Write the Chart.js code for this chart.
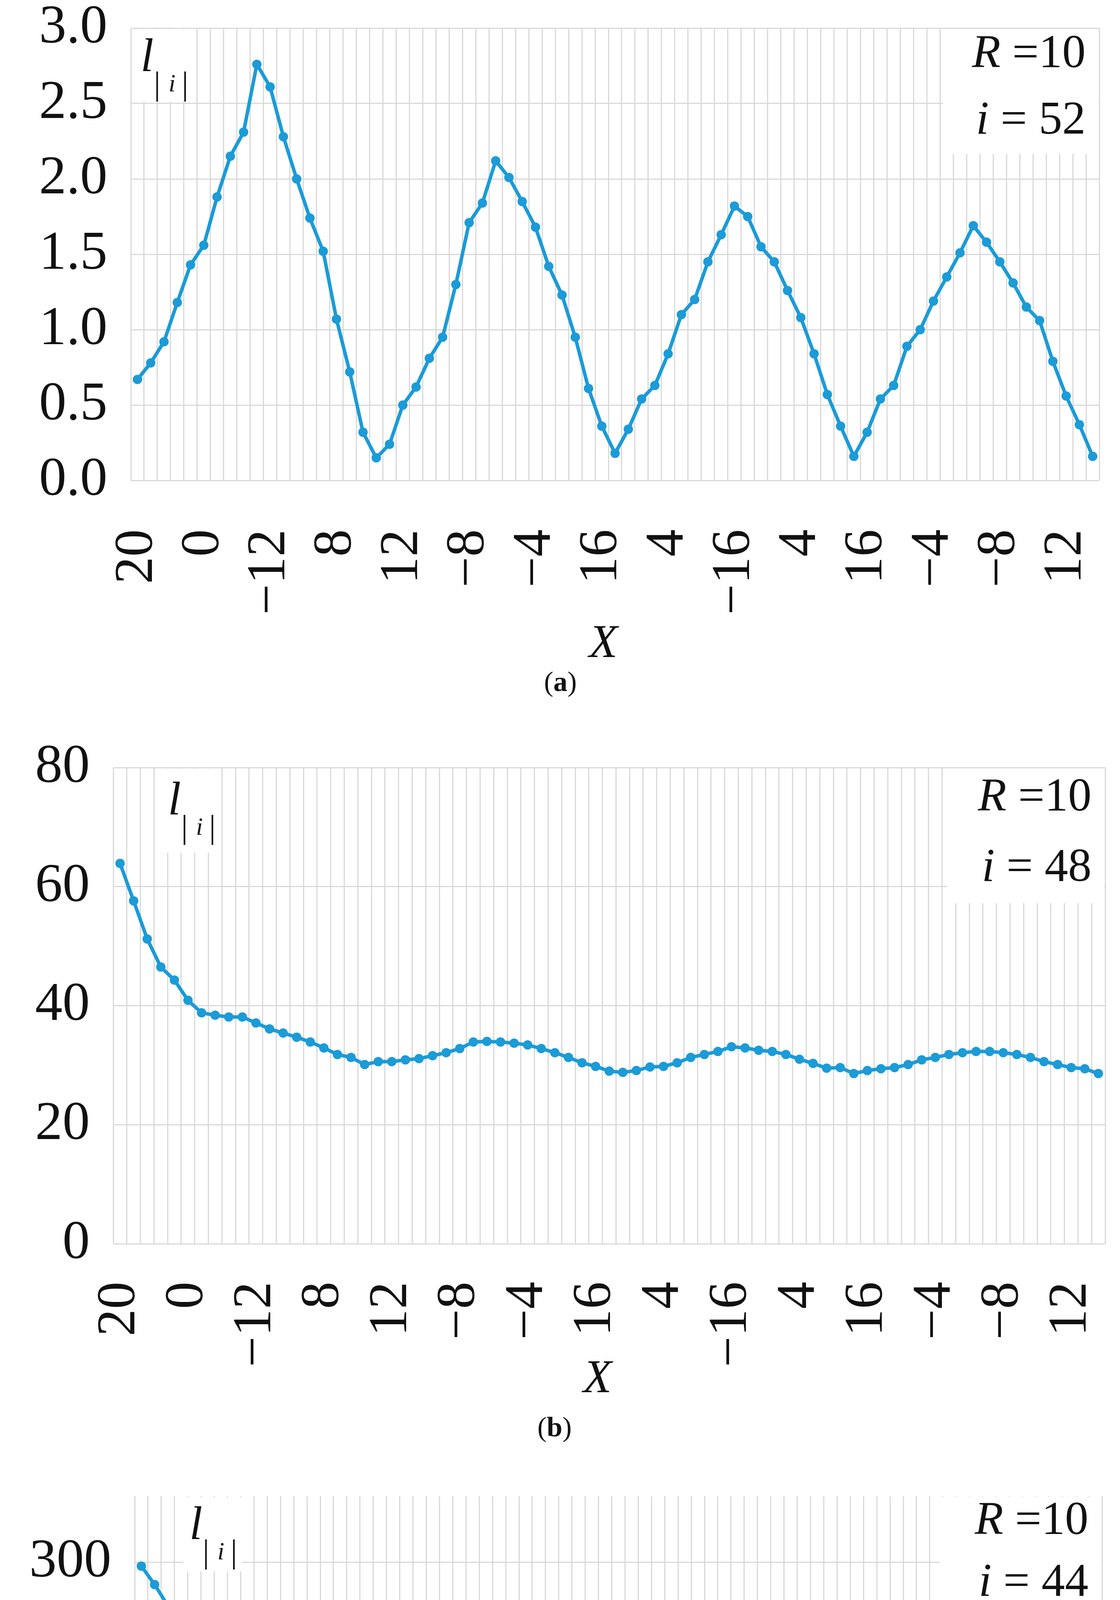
<!DOCTYPE html>
<html><head><meta charset="utf-8">
<script src="https://cdn.jsdelivr.net/npm/chart.js@4.4.1/dist/chart.umd.min.js"></script>
<style>
html,body{margin:0;padding:0;background:#fff;overflow:hidden;}
canvas{position:absolute;left:0;}
</style></head>
<body>
<canvas id="ca" width="2868" height="1850" style="top:0px;width:2868px;height:1850px"></canvas>
<canvas id="cb" width="2868" height="1850" style="top:1850px;width:2868px;height:1850px"></canvas>
<canvas id="cc" width="2868" height="1926" style="top:3700px;width:2868px;height:1926px"></canvas>
<script>
// tick labels shown every 5th category
const tickLabels = ['20','0','\u221212','8','12','\u22128','\u22124','16','4','\u221216','4','16','\u22124','\u22128','12'];
const categories = Array.from({length:73},(_,i)=>i);

const valuesA = [0.67,0.78,0.92,1.18,1.43,1.56,1.88,2.15,2.31,2.76,2.61,2.28,2.00,1.74,1.52,1.07,0.72,0.32,0.15,0.24,
 0.50,0.62,0.81,0.95,1.30,1.71,1.84,2.12,2.01,1.85,1.68,1.42,1.23,0.95,0.61,0.36,0.18,0.34,0.54,0.63,
 0.84,1.10,1.20,1.45,1.63,1.82,1.75,1.55,1.45,1.26,1.08,0.84,0.57,0.36,0.16,0.32,0.54,0.63,0.89,1.00,
 1.19,1.35,1.51,1.69,1.58,1.45,1.31,1.15,1.06,0.79,0.56,0.37,0.16];
const valuesB = [63.9,57.6,51.2,46.5,44.3,40.9,38.8,38.4,38.1,38.1,37.1,36.1,35.4,34.7,33.9,32.9,31.8,31.3,30.1,30.6,
 30.6,30.9,31.1,31.6,32.1,32.8,33.9,34.0,33.9,33.7,33.4,32.8,32.1,31.3,30.4,29.8,29.0,28.8,29.1,29.7,
 29.8,30.4,31.3,31.8,32.3,33.1,32.9,32.5,32.3,31.8,31.0,30.3,29.5,29.6,28.6,29.1,29.4,29.6,30.1,30.9,
 31.3,31.8,32.1,32.3,32.3,32.1,31.8,31.3,30.6,30.1,29.6,29.4,28.6];
const valuesC = [297,283,267,253,235,221,213,201,196,189,189,190,190,192,193,196,200,203,208,205,
 203,201,198,196,193,191,188,188,187,187,188,189,191,193,198,201,206,203,200,198,
 195,193,190,189,188,187,186,187,187,188,190,192,195,197,203,199,196,195,192,190,
 188,187,187,187,187,188,188,189,191,193,196,199,203];

const panels = [
 {id:'ca', data:valuesA, max:3, step:0.5, dec:1, i:'52', cap:'a',
  L:335, R:2815, padTop:72, xH:620, tickPad:125, xTitleY:420, capY:520,
  lbox:[5,3,160,185], lx:25, ly:110, rbox:[400,320], ry1:100, ry2:270},
 {id:'cb', data:valuesB, max:80, step:20, dec:0, i:'48', cap:'b',
  L:290, R:2830, padTop:115, xH:516, tickPad:97, xTitleY:348, capY:474,
  lbox:[130,3,135,215], lx:140, ly:120, rbox:[405,345], ry1:110, ry2:290},
 {id:'cc', data:valuesC, max:350, step:50, dec:0, i:'44', cap:'c',
  L:345, R:2822, padTop:130, xH:613, tickPad:115, xTitleY:438, capY:563,
  lbox:[125,3,150,190], lx:140, ly:110, rbox:[415,305], ry1:97, ry2:255}
];

const BLUE = '#1b9bd7';
const SERIF = '"Liberation Serif", "DejaVu Serif", serif';

function annot(p){
 return {
  id:'annot'+p.id,
  beforeDatasetsDraw(chart){
   const c = chart.ctx, a = chart.chartArea;
   c.save();
   c.fillStyle = '#fff';
   c.fillRect(a.left+p.lbox[0], a.top+p.lbox[1], p.lbox[2], p.lbox[3]);
   c.fillRect(a.right-p.rbox[0], a.top+2, p.rbox[0]-2, p.rbox[1]);
   c.fillStyle = '#111';
   c.textBaseline = 'alphabetic';
   c.textAlign = 'left';
   c.font = 'italic 120px '+SERIF;
   c.fillText('l', a.left+p.lx, a.top+p.ly);
   c.font = '84px '+SERIF;
   let x = a.left+p.lx+34, y = a.top+p.ly+60;
   c.fillText('|', x, y); x += c.measureText('| ').width;
   c.font = 'italic 64px '+SERIF;
   c.fillText('i', x, y-8); x += c.measureText('i ').width;
   c.font = '84px '+SERIF;
   c.fillText('|', x, y);
   function rightLine(parts, yy){
    let xx = a.right-35;
    c.textAlign = 'right';
    for (let k=parts.length-1;k>=0;k--){
     c.font = (parts[k][1]?'italic ':'')+'120px '+SERIF;
     c.fillText(parts[k][0], xx, yy);
     xx -= c.measureText(parts[k][0]).width;
    }
   }
   rightLine([['R',true],[' =',false],['10',false]], a.top+p.ry1);
   rightLine([['i',true],[' = ',false],[p.i,false]], a.top+p.ry2);
   c.restore();
  },
  afterDraw(chart){
   const c = chart.ctx, a = chart.chartArea;
   c.save();
   c.fillStyle = '#111';
   c.textAlign = 'center';
   c.textBaseline = 'middle';
   c.font = 'italic 120px '+SERIF;
   c.fillText('X', (a.left+a.right)/2-30, a.bottom+p.xTitleY);
   c.textAlign = 'left';
   c.font = '72px '+SERIF;
   const w1 = c.measureText('(').width;
   c.font = 'bold 72px '+SERIF;
   const w2 = c.measureText(p.cap).width;
   c.font = '72px '+SERIF;
   const w3 = c.measureText(')').width;
   let x = (a.left+a.right)/2 - 140 - (w1+w2+w3)/2;
   const y = a.bottom+p.capY;
   c.fillText('(', x, y); x += w1;
   c.font = 'bold 72px '+SERIF; c.fillText(p.cap, x, y); x += w2;
   c.font = '72px '+SERIF; c.fillText(')', x, y);
   c.restore();
  }
 };
}

panels.forEach(p=>{
 new Chart(document.getElementById(p.id), {
  type:'line',
  data:{labels:categories, datasets:[{data:p.data, borderColor:BLUE, backgroundColor:BLUE,
    borderWidth:9, pointRadius:12, pointBackgroundColor:BLUE, pointBorderWidth:0, tension:0, fill:false}]},
  options:{
   responsive:false, devicePixelRatio:1, animation:false,
   layout:{padding:{top:p.padTop, right:2868-p.R, left:0, bottom:0}},
   plugins:{legend:{display:false}, tooltip:{enabled:false}},
   scales:{
    x:{type:'category', offset:true,
     grid:{offset:true, color:'#d9d9d9', lineWidth:3, drawTicks:false},
     border:{display:false},
     ticks:{autoSkip:false, minRotation:90, maxRotation:90, padding:p.tickPad, color:'#111',
       font:{family:SERIF, size:140},
       callback:(v,i)=> i%5===0 ? tickLabels[i/5] : ''},
     afterFit:s=>{s.height=p.xH; s.paddingLeft=0; s.paddingRight=0;}
    },
    y:{min:0, max:p.max,
     grid:{color:'#d9d9d9', lineWidth:3, drawTicks:false},
     border:{display:false},
     ticks:{stepSize:p.step, padding:60, color:'#111', font:{family:SERIF, size:140},
       callback:v=>Number(v).toFixed(p.dec)},
     afterFit:s=>{s.width=p.L; s.paddingTop=0; s.paddingBottom=0;}
    }
   }
  },
  plugins:[annot(p)]
 });
});
</script>
</body></html>
